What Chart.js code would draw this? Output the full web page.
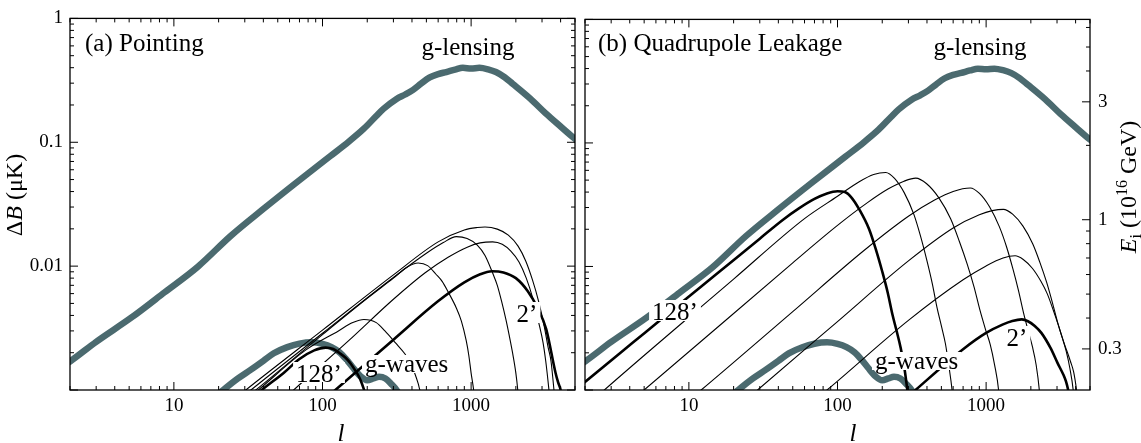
<!DOCTYPE html>
<html>
<head>
<meta charset="utf-8">
<title>Pointing / Quadrupole leakage</title>
<script src="https://cdn.jsdelivr.net/npm/chart.js@4.4.1/dist/chart.umd.min.js"></script>
<style>
  body { margin: 0; background: #fff; }
  #wrap { position: relative; width: 1141px; height: 443px; }
  .panel { position: absolute; top: 0; height: 443px; }
</style>
</head>
<body>
<div id="wrap">
  <div class="panel" style="left:0;width:580px"><canvas id="pointing"></canvas></div>
  <div class="panel" style="left:580px;width:561px"><canvas id="leakage"></canvas></div>
</div>
<script>
const SERIF = '"Liberation Serif", "Times New Roman", serif';
const GREY = '#4b6a6f';

// axes
const lMin = 2, lMax = 5000;
const dbMin = 0.001, dbMax = 1;
const kLeak = 0.0239; // dB = kLeak * Ei^2 (right axis of panel b)

const xTickVals = [2,3,4,5,6,7,8,9,10,20,30,40,50,60,70,80,90,100,200,300,400,500,600,700,800,900,1000,2000,3000,4000,5000];
const xLabelVals = [10, 100, 1000];
const yTickVals = [0.001,0.002,0.003,0.004,0.005,0.006,0.007,0.008,0.009,0.01,0.02,0.03,0.04,0.05,0.06,0.07,0.08,0.09,0.1,0.2,0.3,0.4,0.5,0.6,0.7,0.8,0.9,1];
const yMajorVals = [0.001, 0.01, 0.1, 1];
const yLabelVals = [0.01, 0.1, 1];
const eTickVals = [0.3,0.4,0.5,0.6,0.7,0.8,0.9,1,2,3,4,5,6];
const eLabelVals = [0.3, 1, 3];

// signal curves, [l, dB in uK] (same in both panels)
const lensing = [[1.8,0.00157],[2,0.0017],[3,0.00245],[5.19,0.00385],[8.67,0.00615],[14.5,0.0099],[24.2,0.0176],[40.5,0.0293],[67.5,0.0478],[113,0.0774],[150,0.101],[189,0.128],[230,0.163],[257,0.186],[315,0.224],[360,0.243],[407,0.265],[460,0.297],[527,0.334],[600,0.355],[681,0.369],[780,0.386],[880,0.399],[1000,0.394],[1137,0.399],[1300,0.388],[1469,0.369],[1680,0.335],[1900,0.297],[2500,0.225],[3176,0.171],[4000,0.134],[4920,0.108],[5500,0.097]];
const gwaves = [[19,0.00088],[21.5,0.001],[27,0.00124],[33,0.00146],[40,0.00172],[47,0.00198],[58,0.00222],[70,0.00237],[85,0.00243],[100,0.00236],[115,0.00222],[130,0.00202],[145,0.00176],[160,0.00152],[180,0.00129],[200,0.00120],[220,0.00124],[240,0.00128],[265,0.00124],[290,0.00112],[315,0.001],[335,0.00088]];

// (a) pointing, beams 128' .. 2'
const point128 = [[36,0.00092],[39,0.001],[55,0.00138],[70,0.00178],[88,0.00209],[105,0.0022],[118,0.00214],[130,0.00199],[143,0.00182],[155,0.00163],[166,0.00144],[176,0.00128],[184,0.00113],[191,0.00099],[196,0.0009]];
const point64 = [[34,0.00092],[37,0.001],[77,0.0021],[128,0.0030],[160,0.0035],[190,0.00371],[230,0.0035],[263,0.0030],[310,0.0024],[358,0.00196],[390,0.00165],[418,0.00136],[440,0.00113],[452,0.001],[465,0.0009]];
const point32 = [[33,0.00093],[35.6,0.001],[100,0.0028],[200,0.0055],[300,0.0080],[370,0.0098],[440,0.0106],[510,0.0101],[580,0.0086],[640,0.0075],[700,0.0062],[795,0.0046],[860,0.0036],[927,0.0025],[965,0.0019],[1000,0.00137],[1040,0.001],[1060,0.0008]];
const point16 = [[30,0.00091],[33,0.001],[100,0.00287],[300,0.0081],[500,0.0127],[650,0.0155],[795,0.0173],[940,0.0167],[1100,0.0148],[1240,0.0122],[1396,0.0088],[1500,0.0070],[1610,0.0051],[1715,0.0037],[1800,0.0028],[1900,0.0020],[2000,0.00137],[2060,0.001],[2090,0.0008]];
const point8 = [[28,0.00092],[30.5,0.001],[100,0.00304],[300,0.0085],[600,0.0157],[900,0.0196],[1100,0.0205],[1240,0.0207],[1500,0.0199],[1780,0.0178],[2070,0.0145],[2330,0.0110],[2590,0.0077],[2845,0.0052],[3100,0.0033],[3300,0.0022],[3450,0.0017],[3610,0.001],[3680,0.0008]];
const point4 = [[60,0.00093],[64,0.001],[150,0.0025],[300,0.0054],[488,0.0088],[700,0.0118],[950,0.0143],[1150,0.0154],[1396,0.0157],[1620,0.0150],[1850,0.0132],[2100,0.0108],[2350,0.0080],[2600,0.0055],[2850,0.0035],[3050,0.0024],[3180,0.0017],[3340,0.001],[3400,0.0008]];
const point2 = [[115,0.00094],[122,0.001],[300,0.00255],[598,0.0052],[900,0.0074],[1150,0.0086],[1380,0.0091],[1650,0.0089],[2000,0.0080],[2400,0.0063],[2800,0.0046],[3200,0.0031],[3700,0.00137],[3850,0.00115],[4000,0.001],[4050,0.0009]];

// (b) quadrupole leakage, beams 128' .. 2'
const quad128 = [[1.5,0.00087],[2,0.00116],[4.2,0.00242],[9.1,0.0052],[15.2,0.0086],[30,0.0168],[42.8,0.0238],[55,0.0295],[70,0.0352],[85,0.0390],[100,0.0406],[112,0.0400],[125,0.0358],[140,0.029],[163,0.0201],[182,0.0135],[200,0.0091],[218,0.0061],[234,0.0041],[250,0.0030],[266,0.0022],[282,0.0015],[295,0.001],[305,0.0007]];
const quad64 = [[2.5,0.00092],[2.7,0.001],[20,0.0079],[60,0.0244],[100,0.037],[140,0.0485],[175,0.0555],[211,0.0577],[242,0.0517],[281,0.0396],[326,0.0265],[360,0.018],[400,0.0111],[435,0.0072],[467,0.00467],[500,0.0033],[532,0.00238],[560,0.0016],[590,0.001],[605,0.0007]];
const quad32 = [[4.6,0.00092],[5,0.001],[50,0.0107],[100,0.0215],[160,0.033],[220,0.0425],[280,0.049],[336,0.0519],[398,0.0467],[481,0.0359],[577,0.0243],[660,0.016],[746,0.01044],[830,0.0068],[906,0.00449],[990,0.0031],[1066,0.00233],[1140,0.0016],[1213,0.001],[1240,0.0007]];
const quad16 = [[11,0.00091],[12.1,0.001],[50,0.00431],[150,0.0134],[300,0.0255],[450,0.0345],[600,0.0405],[782,0.0432],[902,0.039],[1054,0.0304],[1227,0.021],[1370,0.0145],[1521,0.00937],[1650,0.0064],[1787,0.00419],[1920,0.003],[2049,0.00224],[2170,0.0016],[2280,0.001],[2330,0.0007]];
const quad8 = [[26.5,0.00091],[29,0.001],[100,0.00358],[300,0.0111],[600,0.0205],[900,0.0262],[1100,0.0283],[1306,0.029],[1508,0.0265],[1770,0.0212],[2061,0.0152],[2300,0.0108],[2558,0.0074],[2780,0.0052],[3013,0.0036],[3240,0.0027],[3457,0.00206],[3660,0.0015],[3854,0.001],[3950,0.0007]];
const quad4 = [[78,0.00092],[85,0.001],[300,0.00366],[700,0.0078],[1000,0.0101],[1300,0.0117],[1567,0.0122],[1778,0.0114],[2046,0.00967],[2342,0.00755],[2580,0.0060],[2832,0.00442],[3050,0.0034],[3272,0.00259],[3480,0.0021],[3690,0.00171],[3880,0.0014],[4060,0.001],[4150,0.0008]];
const quad2 = [[310,0.00092],[335,0.001],[700,0.00214],[1000,0.0029],[1300,0.0034],[1500,0.00362],[1738,0.00373],[1912,0.0036],[2125,0.0033],[2353,0.0029],[2717,0.00218],[3027,0.00165],[3318,0.00132],[3450,0.00117],[3565,0.001],[3620,0.0009]];

Chart.defaults.font.family = SERIF;
Chart.defaults.color = '#000';

// one line dataset
function curve(points, kind) {
  const st = { thin: ['#000', 1.1], thick: ['#000', 2.6], grey: [GREY, 6.5] }[kind];
  return {
    data: points.map(p => ({ x: p[0], y: p[1] })),
    borderColor: st[0],
    borderWidth: st[1],
    pointRadius: 0,
    fill: false,
    cubicInterpolationMode: 'monotone',
    borderJoinStyle: 'round'
  };
}

function seg(ctx, x1, y1, x2, y2) {
  ctx.beginPath(); ctx.moveTo(x1, y1); ctx.lineTo(x2, y2); ctx.stroke();
}

// text made of pieces (italic, sub, sup), centred on (x,y), optionally rotated
function drawRich(ctx, r) {
  const fontOf = p => (p.italic ? 'italic ' : '') + ((p.sub || p.sup) ? Math.round(r.size * 0.65) : r.size) + 'px ' + SERIF;
  ctx.save();
  ctx.translate(r.x, r.y);
  if (r.rotate) ctx.rotate(-Math.PI / 2);
  let w = 0;
  r.parts.forEach(p => { ctx.font = fontOf(p); w += ctx.measureText(p.t).width; });
  let cx = -w / 2;
  ctx.fillStyle = '#000';
  ctx.textAlign = 'left';
  ctx.textBaseline = 'alphabetic';
  r.parts.forEach(p => {
    ctx.font = fontOf(p);
    const dy = p.sub ? r.size * 0.22 : p.sup ? -r.size * 0.38 : 0;
    ctx.fillText(p.t, cx, dy);
    cx += ctx.measureText(p.t).width;
  });
  ctx.restore();
}

// frame with inward ticks on all sides + labels
const frame = {
  id: 'frame',
  afterDatasetsDraw(chart, args, o) {
    const ctx = chart.ctx;
    o.labels.forEach(t => {
      ctx.save();
      ctx.font = (t.italic ? 'italic ' : '') + t.size + 'px ' + SERIF;
      ctx.textAlign = t.align || 'left';
      ctx.textBaseline = 'alphabetic';
      if (t.bg) {
        const m = ctx.measureText(t.text);
        const x0 = t.x - (t.align === 'center' ? m.width / 2 : 0);
        ctx.fillStyle = '#fff';
        ctx.fillRect(x0 - 3, t.y - m.actualBoundingBoxAscent - 3, m.width + 6, m.actualBoundingBoxAscent + 4);
      }
      ctx.fillStyle = '#000';
      ctx.fillText(t.text, t.x, t.y);
      ctx.restore();
    });
  },
  afterDraw(chart, args, o) {
    const { ctx, chartArea: a, scales } = chart;
    ctx.save();
    ctx.strokeStyle = '#000';
    ctx.lineWidth = 1;
    xTickVals.forEach(v => {
      const p = scales.x.getPixelForValue(v), len = xLabelVals.includes(v) ? 8 : 4;
      seg(ctx, p, a.bottom, p, a.bottom - len);
      seg(ctx, p, a.top, p, a.top + len);
    });
    yTickVals.forEach(v => {
      const p = scales.y.getPixelForValue(v), len = yMajorVals.includes(v) ? 8 : 4;
      seg(ctx, a.left, p, a.left + len, p);
      if (o.right === 'y') seg(ctx, a.right, p, a.right - len, p);
    });
    if (o.right === 'e') {
      eTickVals.forEach(v => {
        const p = scales.e.getPixelForValue(v), len = eLabelVals.includes(v) ? 8 : 4;
        seg(ctx, a.right, p, a.right - len, p);
      });
    }
    ctx.lineWidth = 1.3;
    ctx.strokeRect(a.left, a.top, a.right - a.left, a.bottom - a.top);
    ctx.restore();
    o.rich.forEach(r => drawRich(ctx, r));
  }
};

const tickFont = { family: SERIF, size: 19 };

function xScale() {
  return {
    type: 'logarithmic', position: 'bottom', min: lMin, max: lMax,
    afterBuildTicks: s => { s.ticks = xTickVals.map(v => ({ value: v })); },
    afterFit: s => { s.height = 53; },
    grid: { display: false, drawTicks: false },
    border: { display: false },
    ticks: { autoSkip: false, maxRotation: 0, padding: 5, color: '#000', font: tickFont,
      callback: v => xLabelVals.includes(v) ? String(v) : '' }
  };
}

function yScale(width, showLabels) {
  return {
    type: 'logarithmic', position: 'left', min: dbMin, max: dbMax,
    afterBuildTicks: s => { s.ticks = yTickVals.map(v => ({ value: v })); },
    afterFit: s => { s.width = width; },
    grid: { display: false, drawTicks: false },
    border: { display: false },
    ticks: { display: showLabels, autoSkip: false, padding: 7, color: '#000', font: tickFont,
      callback: v => yLabelVals.includes(v) ? String(v) : '' }
  };
}

function makePanel(id, sets, extraScales, padRight, frameOpts) {
  return new Chart(document.getElementById(id), {
    type: 'line',
    data: { datasets: sets },
    options: {
      responsive: true,
      maintainAspectRatio: false,
      animation: false,
      events: [],
      layout: { padding: { top: 14, right: padRight, left: 0, bottom: 0 } },
      scales: Object.assign({ x: xScale() }, extraScales),
      plugins: { legend: { display: false }, tooltip: { enabled: false }, frame: frameOpts }
    },
    plugins: [frame]
  });
}

// (a) Pointing
makePanel('pointing', [
  curve(point128, 'thick'), curve(point64, 'thin'), curve(point32, 'thin'), curve(point16, 'thin'),
  curve(point8, 'thin'), curve(point4, 'thin'), curve(point2, 'thick'),
  curve(gwaves, 'grey'), curve(lensing, 'grey')
], { y: yScale(70, true) }, 2, {
  right: 'y',
  labels: [
    { text: '(a) Pointing', x: 85, y: 51, size: 25 },
    { text: 'g-lensing', x: 468, y: 55, size: 25, align: 'center' },
    { text: '128\u2019', x: 319, y: 382, size: 25, align: 'center', bg: true },
    { text: 'g-waves', x: 365, y: 372, size: 25, bg: true },
    { text: '2\u2019', x: 527, y: 322, size: 25, align: 'center', bg: true },
    { text: 'l', x: 341, y: 441, size: 25, align: 'center', italic: true }
  ],
  rich: [
    { parts: [{ t: '\u0394' }, { t: 'B', italic: true }, { t: ' (\u03bcK)' }], x: 22, y: 195, size: 24, rotate: true }
  ]
});

// (b) Quadrupole leakage, right axis in Ei
makePanel('leakage', [
  curve(quad128, 'thick'), curve(quad64, 'thin'), curve(quad32, 'thin'), curve(quad16, 'thin'),
  curve(quad8, 'thin'), curve(quad4, 'thin'), curve(quad2, 'thick'),
  curve(gwaves, 'grey'), curve(lensing, 'grey')
], {
  y: yScale(2, false),
  e: {
    type: 'logarithmic', position: 'right',
    min: Math.sqrt(dbMin / kLeak), max: Math.sqrt(dbMax / kLeak),
    afterBuildTicks: s => { s.ticks = eTickVals.map(v => ({ value: v })); },
    afterFit: s => { s.width = 51; },
    grid: { display: false, drawTicks: false },
    border: { display: false },
    ticks: { autoSkip: false, padding: 8, color: '#000', font: tickFont,
      callback: v => eLabelVals.includes(v) ? String(v) : '' }
  }
}, 0, {
  right: 'e',
  labels: [
    { text: '(b) Quadrupole Leakage', x: 18, y: 51, size: 25 },
    { text: 'g-lensing', x: 400, y: 55, size: 25, align: 'center' },
    { text: '128\u2019', x: 95, y: 320, size: 25, align: 'center', bg: true },
    { text: 'g-waves', x: 295, y: 369, size: 25, bg: true },
    { text: '2\u2019', x: 437, y: 346, size: 25, align: 'center', bg: true },
    { text: 'l', x: 273, y: 441, size: 25, align: 'center', italic: true }
  ],
  rich: [
    { parts: [{ t: 'E', italic: true }, { t: 'i', sub: true }, { t: ' (10' }, { t: '16', sup: true }, { t: ' GeV)' }], x: 556, y: 187, size: 24, rotate: true }
  ]
});
</script>
</body>
</html>
